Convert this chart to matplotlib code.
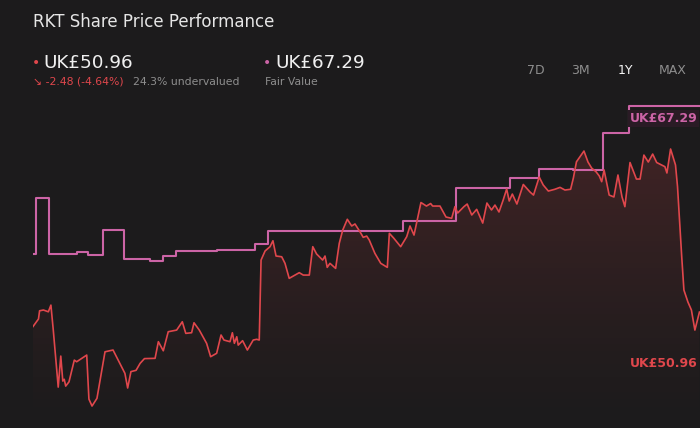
import numpy as np
import matplotlib
matplotlib.use("Agg")
from matplotlib import pyplot as plt

# share price over the last year (day, UK£)
price_day = [0, 1.9, 3.0, 3.6, 5.7, 8.4, 9.8, 11.1, 13.8, 15.2, 16.3, 17.1, 17.9, 19.7,
             22.6, 23.9, 29.4, 30.6, 32.3, 35.0, 39.4, 43.8, 50.3, 51.8, 53.6, 56.4,
             58.6, 61.0, 66.8, 68.6, 71.3, 74.0, 78.6, 81.7, 83.6, 86.8, 88.1, 91.0,
             95.0, 97.2, 100.5, 102.9, 104.5, 107.8, 109.1, 110.2, 111.5, 112.3, 114.7,
             117.3, 120.5, 122.4, 123.8, 124.8, 127.0, 129.7, 131.3, 133.0, 136.1, 137.9,
             140.2, 145.7, 147.9, 151.2, 153.1, 155.2, 158.5, 159.8, 161.0, 162.5, 165.6,
             167.6, 169.5, 172.0, 174.4, 176.2, 178.9, 180.7, 182.6, 184.0, 187.1, 190.3,
             193.9, 195.0, 197.5, 201.2, 204.5, 206.3, 208.5, 212.3, 215.3, 217.6, 218.7,
             222.7, 226.0, 229.1, 230.9, 232.4, 235.8, 237.6, 240.1, 242.8, 246.1, 248.4,
             250.9, 252.8, 255.0, 257.3, 259.2, 260.6, 262.3, 264.8, 268.3, 272.0, 273.9,
             277.0, 279.2, 282.0, 285.6, 288.4, 291.1, 294.2, 295.7, 297.4, 301.5, 303.7,
             305.7, 308.1, 309.9, 311.2, 312.5, 315.3, 317.9, 320.1, 322.3, 323.9, 326.7,
             330.2, 332.2, 334.3, 336.7, 339.1, 341.3, 345.8, 346.9, 348.9, 351.6, 352.7,
             355.0, 356.2, 358.4, 360.3, 362.2, 364.7]
price = [49.81, 50.19, 50.41, 51.06, 51.12, 50.98, 51.51, 49.53, 45.01, 47.47, 45.49,
         45.63, 45.09, 45.43, 47.15, 47.02, 47.55, 44.06, 43.51, 44.12, 47.81, 47.95,
         46.10, 44.94, 46.24, 46.34, 46.89, 47.27, 47.29, 48.61, 47.89, 49.40, 49.53,
         50.19, 49.27, 49.32, 50.11, 49.53, 48.48, 47.42, 47.69, 49.14, 48.74, 48.61,
         49.32, 48.48, 49.00, 48.34, 48.69, 47.95, 48.74, 48.80, 48.74, 55.08, 55.80,
         56.14, 56.61, 55.40, 55.34, 54.82, 53.63, 54.08, 53.89, 53.89, 56.14, 55.56,
         55.08, 55.40, 54.50, 54.82, 54.42, 56.41, 57.46, 58.31, 57.78, 57.94, 57.33,
         56.88, 56.98, 56.67, 55.61, 54.82, 54.50, 57.20, 56.80, 56.14, 56.93, 57.78,
         57.06, 59.64, 59.36, 59.56, 59.36, 59.36, 58.49, 58.39, 59.31, 58.81, 59.31,
         59.52, 58.65, 59.10, 58.01, 59.60, 59.05, 59.44, 58.89, 59.84, 60.71, 59.76,
         60.31, 59.52, 61.07, 60.47, 60.23, 61.66, 61.03, 60.55, 60.69, 60.84, 60.63,
         60.69, 61.58, 62.87, 63.72, 62.85, 62.37, 62.08, 61.74, 61.29, 62.22, 60.23,
         60.08, 61.82, 60.10, 59.31, 62.81, 61.50, 61.50, 63.40, 62.85, 63.48, 62.81,
         62.48, 61.98, 63.88, 62.61, 60.89, 55.34, 52.70, 51.75, 51.12, 49.53, 50.96]

# analyst fair value, changes in steps
fair_day = [0, 1.6, 8.9, 24.2, 30.3, 38.5, 50.0, 64.0, 71.3, 78.2, 100.5, 121.5,
            128.8, 202.6, 231.5, 261.3, 276.9, 295.7, 311.7, 326.4, 365]
fair = [55.56, 59.97, 55.56, 55.69, 55.48, 57.46, 55.16, 55.03, 55.40, 55.77, 55.85,
        56.33, 57.38, 58.17, 60.77, 61.56, 62.30, 62.18, 65.15, 67.29, 67.29]

last_price = "UK£50.96"
fair_value = "UK£67.29"
change = "↘ -2.48 (-4.64%)"
gap = "24.3% undervalued"
periods = ["7D", "3M", "1Y", "MAX"]
period_x = [536, 580, 625, 673]

bg = "#1c1b1c"
red = "#e0474c"
pink = "#cc64a6"
grey = "#8e8e8e"

fig = plt.figure(figsize=(7, 4.28), dpi=100, facecolor=bg)
ax = fig.add_axes([33 / 700, 0, 667 / 700, 1])
ax.set_facecolor(bg)
ax.set_xlim(0, 365)
ax.set_ylim(41.77, 75.69)
ax.axis("off")

# gradient fill under the price line
ymin = ax.get_ylim()[0]
grad = np.linspace(1, 0, 256).reshape(-1, 1)
rgba = np.zeros((256, 1, 4))
rgba[..., 0] = 0.88
rgba[..., 1] = 0.28
rgba[..., 2] = 0.30
rgba[..., 3] = 0.19 * grad ** 1.2
im = ax.imshow(rgba, extent=[0, 365, ymin, 64.5], aspect="auto", zorder=1,
               interpolation="bicubic")
poly = ax.fill_between(price_day, price, ymin, color="none", lw=0)
im.set_clip_path(poly.get_paths()[0], transform=ax.transData)

ax.plot(fair_day, fair, drawstyle="steps-post", color=pink, lw=1.5, zorder=3)
ax.plot(price_day, price, color=red, lw=1.2, zorder=4)

ax.annotate(fair_value, (fair_day[-2], fair[-1]), xytext=(0, -9), textcoords="offset points",
            ha="left", va="center", color=pink, fontsize=9, fontweight="bold", zorder=5,
            bbox=dict(boxstyle="square,pad=0.15", fc="#2a1b25", ec="none"))
ax.annotate(last_price, (fair_day[-2], price[-1]), xytext=(0, -37), textcoords="offset points",
            ha="left", va="center", color=red, fontsize=9, fontweight="bold", zorder=5)

# header
fig.text(33 / 700, 1 - 22 / 428, "RKT Share Price Performance", color="#e6e6e6",
         fontsize=12, va="center")
fig.text(32 / 700, 1 - 63 / 428, "•", color=red, fontsize=10, va="center")
fig.text(43 / 700, 1 - 63 / 428, last_price, color="#f0f0f0", fontsize=13.2, va="center")
fig.text(33 / 700, 1 - 82 / 428, change, color=red, fontsize=7.8, va="center")
fig.text(133 / 700, 1 - 82 / 428, gap, color=grey, fontsize=7.8, va="center")
fig.text(263 / 700, 1 - 63 / 428, "•", color=pink, fontsize=10, va="center")
fig.text(275 / 700, 1 - 63 / 428, fair_value, color="#f0f0f0", fontsize=13.2, va="center")
fig.text(265 / 700, 1 - 82 / 428, "Fair Value", color=grey, fontsize=7.8, va="center")
for lab, px in zip(periods, period_x):
    fig.text(px / 700, 1 - 70 / 428, lab, color="#f4f4f4" if lab == "1Y" else grey,
             fontsize=9, ha="center", va="center")

fig.savefig("out.png", dpi=100, facecolor=bg)
